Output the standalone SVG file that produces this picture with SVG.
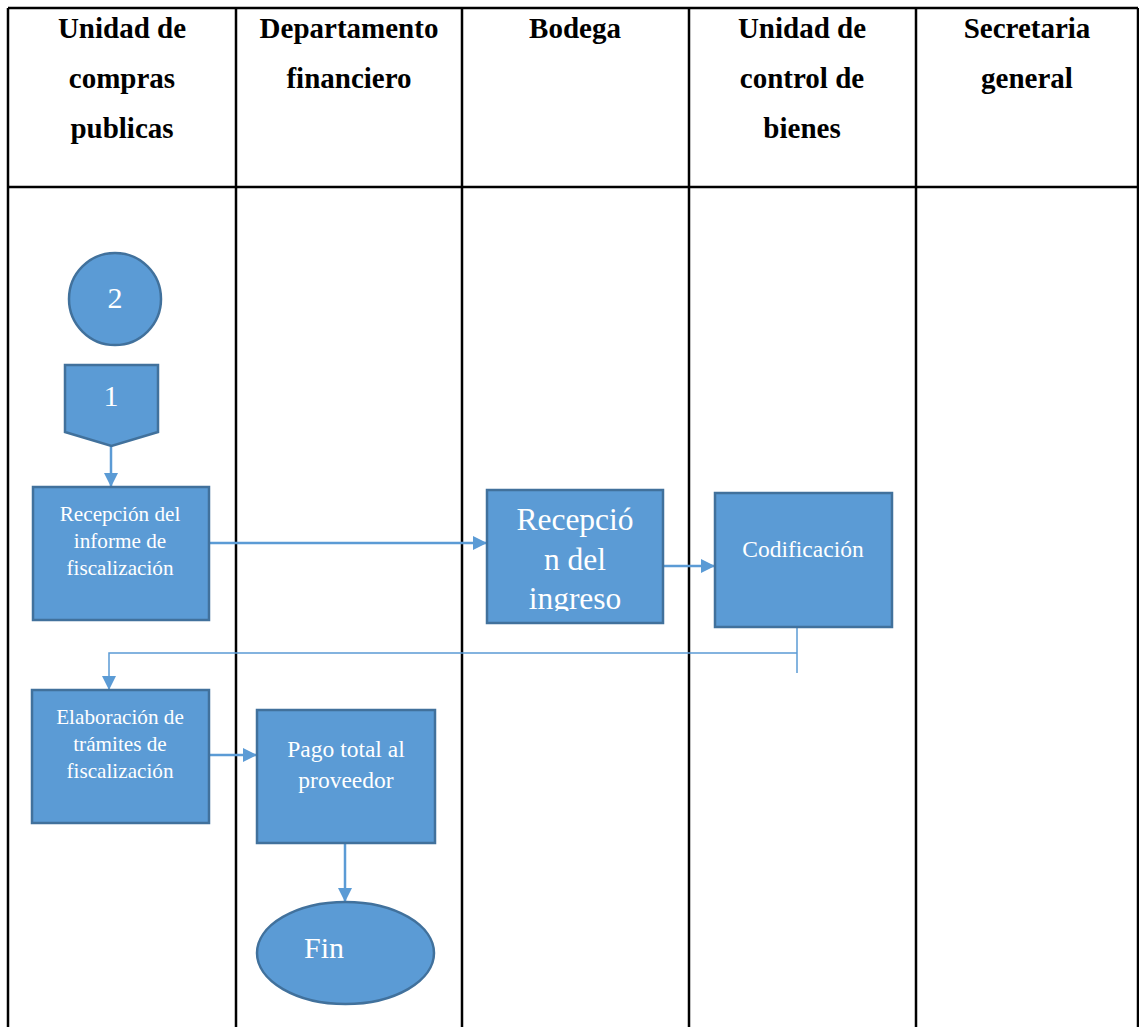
<svg xmlns="http://www.w3.org/2000/svg" width="1139" height="1027" viewBox="0 0 1139 1027">
<style>
.grid{stroke:#000;stroke-width:2.5;fill:none}
.hd{font-family:"Liberation Serif","Times New Roman",serif;font-weight:bold;font-size:29px;fill:#000;text-anchor:middle}
.shape{fill:#5B9BD5;stroke:#41719C;stroke-width:2.5}
.lbl{font-family:"Liberation Serif","Times New Roman",serif;fill:#fff;text-anchor:middle}
.lbl.start{text-anchor:start}
.conn{stroke:#5B9BD5;stroke-width:2.5;fill:none}
.thin{stroke:#5B9BD5;stroke-width:1.5;fill:none}
</style>
<defs>
<marker id="ah" markerUnits="userSpaceOnUse" markerWidth="16" markerHeight="16" refX="14" refY="7" orient="auto">
<path d="M0,0 L14,7 L0,14 z" fill="#5B9BD5"/>
</marker>
<clipPath id="clipIngreso"><rect x="487" y="490" width="176" height="121"/></clipPath>
</defs>
<rect width="1139" height="1027" fill="#fff"/>
<g id="table">
<path class="grid" d="M8,8 H1138 M8,187 H1138 M8,8 V1027 M236,8 V1027 M462,8 V1027 M689,8 V1027 M916,8 V1027 M1138,8 V1027"/>
<text class="hd" x="122" y="38">Unidad de</text>
<text class="hd" x="122" y="88">compras</text>
<text class="hd" x="122" y="138">publicas</text>
<text class="hd" x="349" y="38">Departamento</text>
<text class="hd" x="349" y="88">financiero</text>
<text class="hd" x="575" y="38">Bodega</text>
<text class="hd" x="802" y="38">Unidad de</text>
<text class="hd" x="802" y="88">control de</text>
<text class="hd" x="802" y="138">bienes</text>
<text class="hd" x="1027" y="38">Secretaria</text>
<text class="hd" x="1027" y="88">general</text>
</g>
<g id="connectors">
<path class="conn" d="M111,446 V487" marker-end="url(#ah)"/>
<path class="conn" d="M209,543 H487" marker-end="url(#ah)"/>
<path class="conn" d="M663,566 H715" marker-end="url(#ah)"/>
<path class="thin" d="M797,627 V673"/>
<path class="thin" d="M797,653 H109 V690" marker-end="url(#ah)"/>
<path class="conn" d="M209,755 H257" marker-end="url(#ah)"/>
<path class="conn" d="M345,843 V902" marker-end="url(#ah)"/>
</g>
<g id="node-2">
<circle class="shape" cx="115" cy="299" r="46"/>
<text class="lbl" x="115" y="308" font-size="30">2</text>
</g>
<g id="node-1">
<polygon class="shape" points="65,365 158,365 158,432 111.5,446 65,432"/>
<text class="lbl" x="111" y="406" font-size="30">1</text>
</g>
<g id="node-recepcion-informe">
<rect class="shape" x="33" y="487" width="176" height="133"/>
<text class="lbl" x="120" y="521" font-size="21.2">Recepción del</text>
<text class="lbl" x="120" y="548" font-size="21.2">informe de</text>
<text class="lbl" x="120" y="575" font-size="21.2">fiscalización</text>
</g>
<g id="node-recepcion-ingreso">
<rect class="shape" x="487" y="490" width="176" height="133"/>
<g clip-path="url(#clipIngreso)">
<text class="lbl" x="575" y="530" font-size="31.5">Recepció</text>
<text class="lbl" x="575" y="570" font-size="31.5">n del</text>
<text class="lbl" x="575" y="609" font-size="31.5">ingreso</text>
</g>
</g>
<g id="node-codificacion">
<rect class="shape" x="715" y="493" width="177" height="134"/>
<text class="lbl" x="803" y="557" font-size="23.5">Codificación</text>
</g>
<g id="node-elaboracion">
<rect class="shape" x="32" y="690" width="177" height="133"/>
<text class="lbl" x="120" y="724" font-size="21.2">Elaboración de</text>
<text class="lbl" x="120" y="751" font-size="21.2">trámites de</text>
<text class="lbl" x="120" y="778" font-size="21.2">fiscalización</text>
</g>
<g id="node-pago">
<rect class="shape" x="257" y="710" width="178" height="133"/>
<text class="lbl" x="346" y="757" font-size="23.5">Pago total al</text>
<text class="lbl" x="346" y="788" font-size="23.5">proveedor</text>
</g>
<g id="node-fin">
<ellipse class="shape" cx="345.5" cy="953" rx="88.5" ry="51"/>
<text class="lbl start" x="304" y="958" font-size="30">Fin</text>
</g>
</svg>
